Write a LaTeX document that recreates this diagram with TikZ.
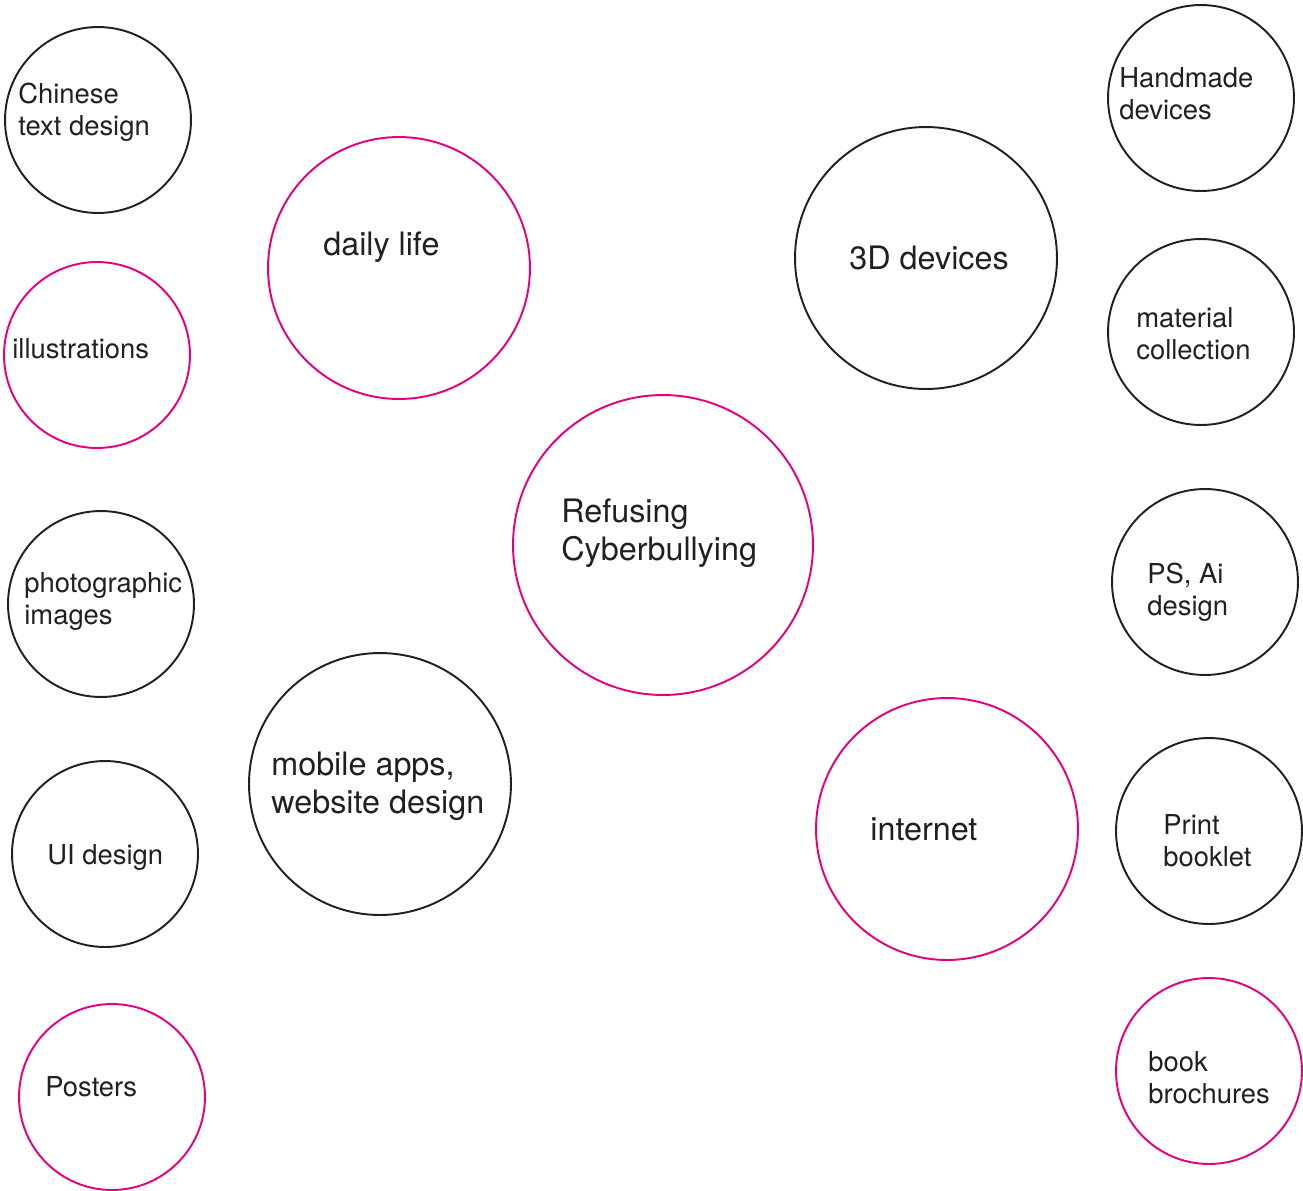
\documentclass[tikz,border=0pt]{standalone}
\usepackage{fontspec}
\setmainfont{TeX Gyre Heros}
\usepackage{tikz}

\definecolor{magenta}{HTML}{E6007E}
\definecolor{ink}{HTML}{231F20}

\begin{document}
\begin{tikzpicture}[x=0.02cm,y=-0.02cm,
  ring/.style={circle,draw=ink,line width=1.1pt,inner sep=0pt},
  pinkring/.style={ring,draw=magenta},
  smallc/.style={minimum size=3.72cm},
  bigc/.style={minimum size=5.24cm},
  hubc/.style={minimum size=6cm},
  lbl/.style={anchor=base west,align=left,inner sep=0pt,text=ink,
    font=\fontsize{15.6pt}{18.2pt}\selectfont},
  biglbl/.style={lbl,font=\fontsize{18.4pt}{21.6pt}\selectfont}]
  \useasboundingbox (0,0) rectangle (1303,1191);
  % left column (labels sit on the baseline of their last line)
  \node[ring,smallc] (chinese) at (98,120) {};
  \node[lbl] (chinesetxt) at (18,135) {Chinese\\text design};
  \node[pinkring,smallc] (illus) at (97,355) {};
  \node[lbl] (illustxt) at (12,358) {illustrations};
  \node[ring,smallc] (photo) at (101,604) {};
  \node[lbl] (phototxt) at (24,624) {photographic\\images};
  \node[ring,smallc] (ui) at (105,854) {};
  \node[lbl] (uitxt) at (47,864) {UI design};
  \node[pinkring,smallc] (posters) at (112,1097) {};
  \node[lbl] (posterstxt) at (45,1096) {Posters};
  % middle
  \node[pinkring,bigc] (daily) at (399,268) {};
  \node[biglbl] (dailytxt) at (323,255) {daily life};
  \node[ring,bigc] (mobile) at (380,784) {};
  \node[biglbl] (mobiletxt) at (271,813) {mobile apps,\\website design};
  \node[pinkring,hubc] (hub) at (663,545) {};
  \node[biglbl] (hubtxt) at (561,560) {Refusing\\Cyberbullying};
  \node[ring,bigc] (threed) at (926,258) {};
  \node[biglbl] (threedtxt) at (849,269) {3D devices};
  \node[pinkring,bigc] (internet) at (947,829) {};
  \node[biglbl] (internettxt) at (870,840) {internet};
  % right column
  \node[ring,smallc] (handmade) at (1201,98) {};
  \node[lbl] (handmadetxt) at (1119,119) {Handmade\\devices};
  \node[ring,smallc] (material) at (1201,332) {};
  \node[lbl] (materialtxt) at (1136,359) {material\\collection};
  \node[ring,smallc] (psai) at (1205,582) {};
  \node[lbl] (psaitxt) at (1147,615) {PS, Ai\\design};
  \node[ring,smallc] (print) at (1209,831) {};
  \node[lbl] (printtxt) at (1163,866) {Print\\booklet};
  \node[pinkring,smallc] (book) at (1209,1071) {};
  \node[lbl] (booktxt) at (1148,1103) {book\\brochures};
\end{tikzpicture}
\end{document}
